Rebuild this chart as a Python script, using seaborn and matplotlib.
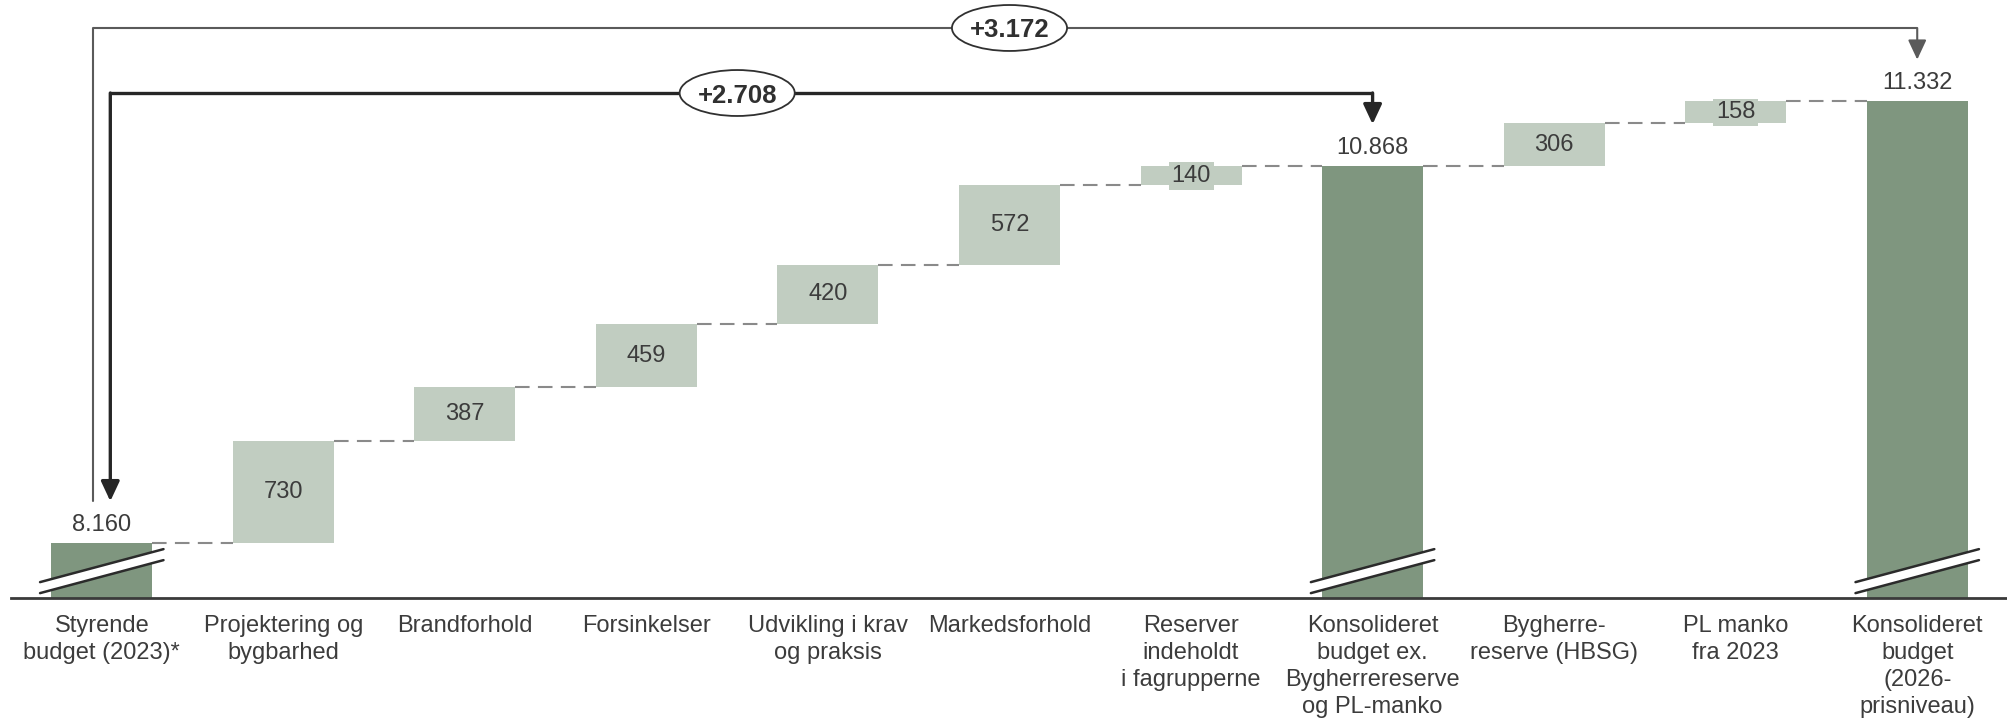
import numpy as np
import pandas as pd
import matplotlib.pyplot as plt
import seaborn as sns
from matplotlib.patches import Ellipse

# ------------------------------------
# data
# ------------------------------------

labels = [
    "Styrende\nbudget (2023)*",
    "Projektering og\nbygbarhed",
    "Brandforhold",
    "Forsinkelser",
    "Udvikling i krav\nog praksis",
    "Markedsforhold",
    "Reserver\nindeholdt\ni fagrupperne",
    "Konsolideret\nbudget ex.\nBygherrereserve\nog PL-manko",
    "Bygherre-\nreserve (HBSG)",
    "PL manko\nfra 2023",
    "Konsolideret\nbudget\n(2026-\nprisniveau)",
]
values = [8160, 730, 387, 459, 420, 572, 140, 10868, 306, 158, 11332]
is_total = [True, False, False, False, False, False, False, True, False, False, True]

# brackets: (from index, to index)
brackets = [(0, 7), (0, 10)]

dark_green = "#7f967f"
light_green = "#c1cdc1"
text_col = "#3c3c3c"


def dk(v):
    # danish thousands separator
    return f"{v:,.0f}".replace(",", ".")


# ------------------------------------
# waterfall geometry
# ------------------------------------

bottoms, heights, tops = [], [], []
running = 0
for v, tot in zip(values, is_total):
    if tot:
        bottoms.append(0)
        heights.append(v)
        running = v
    else:
        bottoms.append(running)
        heights.append(v)
        running += v
    tops.append(running)

df = pd.DataFrame({"label": labels, "height": heights})

sns.set_theme(style="white")
plt.rcParams["font.family"] = ["Liberation Sans", "DejaVu Sans"]

fig = plt.figure(figsize=(20.08, 7.24), dpi=100)
ax = fig.add_axes([11 / 2008, 1 - 598 / 724, 1 - 11 / 2008, 598 / 724])

bar_w = 0.556
sns.barplot(data=df, x="label", y="height", bottom=bottoms, color=dark_green,
            saturation=1, width=bar_w, errorbar=None, ax=ax, zorder=2)
for patch, tot in zip(ax.patches, is_total):
    patch.set_facecolor(dark_green if tot else light_green)
    patch.set_edgecolor("none")

ymin, ymax = 7765, 12060
ax.set_ylim(ymin, ymax)
ax.set_xlim(-0.5, len(labels) - 0.5)

# connectors
for i in range(len(labels) - 1):
    ax.plot([i + bar_w / 2, i + 1 - bar_w / 2], [tops[i], tops[i]],
            color="#8a8a8a", lw=1.5, ls=(0, (7, 4)), zorder=1)

# value labels
for i, (v, tot) in enumerate(zip(values, is_total)):
    if tot:
        ax.annotate(dk(v), (i, tops[i]), xytext=(0, 5), textcoords="offset points",
                    ha="center", va="bottom", fontsize=17, color=text_col)
    else:
        ax.text(i, bottoms[i] + v / 2, dk(v), ha="center", va="center",
                fontsize=17, color=text_col, zorder=3,
                bbox=dict(boxstyle="square,pad=0.12", fc=light_green, ec="none"))

# axis break marks on total bars
ext = 0.34
y0, dy, gap = 7800, 237, 79
for i, tot in enumerate(is_total):
    if not tot:
        continue
    xs = [i - ext, i + ext]
    ax.fill([i - ext, i + ext, i + ext, i - ext],
            [y0, y0 + dy, y0 + dy + gap, y0 + gap], color="white", zorder=4, lw=0)
    ax.plot(xs, [y0, y0 + dy], color="#2b2b2b", lw=1.8, zorder=5)
    ax.plot(xs, [y0 + gap, y0 + dy + gap], color="#2b2b2b", lw=1.8, zorder=5)

# brackets
bracket_y = {(0, 7): 11392, (0, 10): 11859}
bracket_style = {(0, 7): dict(color="#262626", lw=2.4, dx=0.047, left_arrow=True),
                 (0, 10): dict(color="#5a5a5a", lw=1.5, dx=-0.047, left_arrow=False)}
tip_off = 300
ell_w, ell_h = 0.634, 330
for a, b in brackets:
    yb = bracket_y[(a, b)]
    st = bracket_style[(a, b)]
    xa = a + st["dx"]
    xb = b
    ax.plot([xa, xb], [yb, yb], color=st["color"], lw=st["lw"], zorder=3,
            solid_capstyle="butt")
    arrow = dict(arrowstyle="-|>,head_length=0.6,head_width=0.28",
                 color=st["color"], lw=st["lw"], shrinkA=0, shrinkB=0,
                 mutation_scale=20)
    if st["left_arrow"]:
        ax.annotate("", xy=(xa, tops[a] + tip_off), xytext=(xa, yb),
                    arrowprops=arrow, zorder=3)
    else:
        ax.plot([xa, xa], [yb, tops[a] + tip_off], color=st["color"], lw=st["lw"],
                zorder=3)
    ax.annotate("", xy=(xb, tops[b] + tip_off), xytext=(xb, yb),
                arrowprops=arrow, zorder=3)
    diff = values[b] - values[a]
    xm = (a + b) / 2
    ax.add_patch(Ellipse((xm, yb), ell_w, ell_h, fc="white", ec="#303030",
                         lw=1.3, zorder=5))
    ax.text(xm, yb, "+" + dk(diff), ha="center", va="center_baseline",
            fontsize=18.5, fontweight="bold", color="#303030", zorder=6)

# axes styling
sns.despine(ax=ax, left=True, top=True, right=True)
ax.spines["bottom"].set_color("#3a3a3a")
ax.spines["bottom"].set_linewidth(2)
ax.set_yticks([])
ax.set_xlabel("")
ax.set_ylabel("")
ax.tick_params(axis="x", length=0, pad=12.5, labelsize=17, labelcolor=text_col)
for t in ax.get_xticklabels():
    t.set_linespacing(1.28)
    t.set_va("top")

fig.savefig("out.png", dpi=100)
